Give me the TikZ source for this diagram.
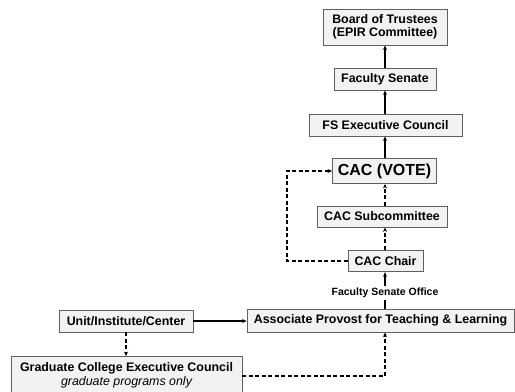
\documentclass[tikz,border=0pt]{standalone}
\usepackage{fontspec}
\setmainfont{Liberation Sans}
\usetikzlibrary{arrows.meta}
\definecolor{boxfill}{HTML}{F2F2F2}
\definecolor{boxline}{HTML}{606060}
\begin{document}
\begin{tikzpicture}[x=1bp,y=-1bp,
  box/.style={draw=boxline,line width=0.9bp,fill=boxfill,inner sep=0pt,align=center,font=\bfseries\fontsize{12.4bp}{13.5bp}\selectfont},
  conn/.style={line width=1.7bp,-{Stealth[length=4.5bp,width=4bp]}},
  dconn/.style={conn,dash pattern=on 4bp off 2.5bp}]
\useasboundingbox (0,0) rectangle (515,391);
\node[box,minimum width=124bp,minimum height=36bp] (bot) at (385,27) {Board of Trustees\\(EPIR Committee)};
\node[box,minimum width=102bp,minimum height=22bp] (fs) at (385,79) {Faculty Senate};
\node[box,minimum width=153bp,minimum height=22bp] (fsec) at (385.5,125) {FS Executive Council};
\node[box,minimum width=104bp,minimum height=25bp,font=\bfseries\fontsize{16bp}{18bp}\selectfont] (vote) at (384.5,171) {CAC (VOTE)};
\node[box,minimum width=130bp,minimum height=21bp] (sub) at (382,216.5) {CAC Subcommittee};
\node[box,minimum width=75bp,minimum height=21.5bp] (chair) at (385.5,261) {CAC Chair};
\node[box,minimum width=267bp,minimum height=23bp] (ap) at (380.5,320.5) {Associate Provost for Teaching \& Learning};
\node[box,minimum width=134bp,minimum height=22bp] (unit) at (126,321) {Unit/Institute/Center};
\node[box,minimum width=231bp,minimum height=38bp] (grad) at (126.5,375.5) {Graduate College Executive Council\\{\mdseries\itshape graduate programs only}};
\node[font=\bfseries\fontsize{10.5bp}{11bp}\selectfont,inner sep=1.5bp] (fso) at (385,293) {Faculty Senate Office};
\coordinate (lc) at (287,0);
\coordinate (gc) at (385,0);
\draw[conn] (fs.north) -- (bot.south);
\draw[conn] (fsec.north -| gc) -- (fs.south);
\draw[conn] (vote.north -| gc) -- (fsec.south -| gc);
\draw[dconn] (sub.north -| gc) -- (vote.south -| gc);
\draw[dconn] (chair.north -| gc) -- (sub.south -| gc);
\draw[line width=1.7bp] (ap.north -| gc) -- (fso.south -| gc);
\draw[conn] (fso.north -| gc) -- (chair.south -| gc);
\draw[dconn] (chair.west) -| (lc |- vote.west) -- (vote.west);
\draw[conn] (unit.east) -- (ap.west |- unit.east);
\draw[dconn] (unit.south) -- (grad.north -| unit.south);
\draw[dconn] (grad.east |- 0,376) -| (ap.south -| gc);
\end{tikzpicture}
\end{document}
